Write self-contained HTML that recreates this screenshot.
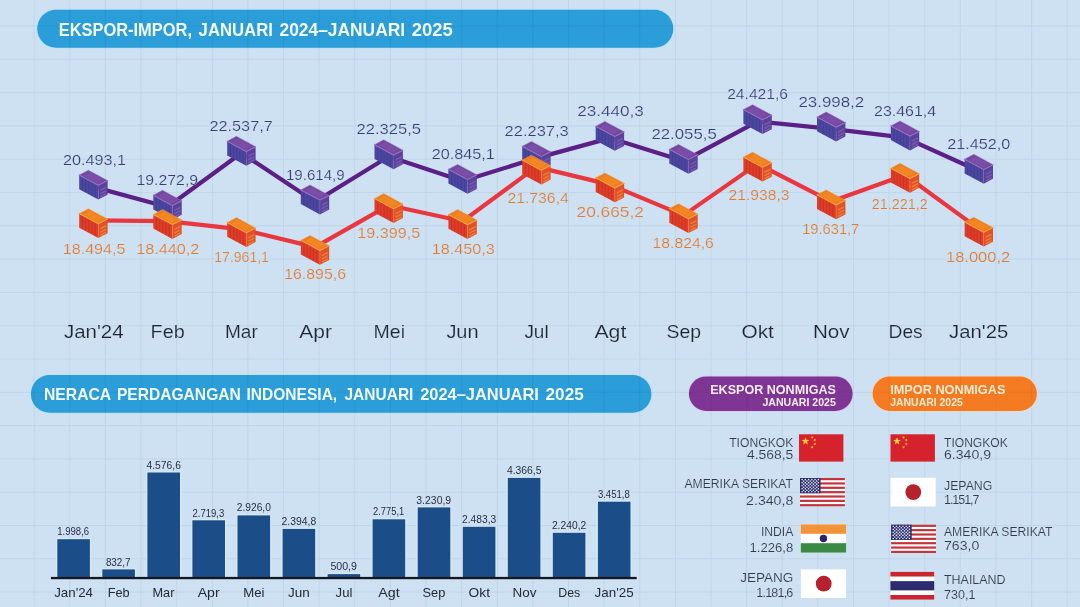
<!DOCTYPE html>
<html lang="id">
<head>
<meta charset="utf-8">
<title>Ekspor-Impor, Januari 2024–Januari 2025</title>
<style>
html,body{margin:0;padding:0;background:#cde1f2;}
body{width:1080px;height:607px;overflow:hidden;font-family:"Liberation Sans",sans-serif;}
svg{display:block;}
text{font-family:"Liberation Sans",sans-serif;}
svg{will-change:transform;}
</style>
</head>
<body>
<svg width="1080" height="607" viewBox="0 0 1080 607" font-family="&quot;Liberation Sans&quot;, sans-serif">
<rect width="1080" height="607" fill="#cde1f2"/>
<g id="grid">
<path d="M34.2 0V607M69.8 0V607M105.4 0V607M141.1 0V607M176.7 0V607M212.3 0V607M247.9 0V607M283.5 0V607M319.2 0V607M354.8 0V607M390.4 0V607M426.0 0V607M461.6 0V607M497.3 0V607M532.9 0V607M568.5 0V607M604.1 0V607M639.7 0V607M675.4 0V607M711.0 0V607M746.6 0V607M782.2 0V607M817.8 0V607M853.5 0V607M889.1 0V607M924.7 0V607M960.3 0V607M995.9 0V607M1031.6 0V607M1067.2 0V607M0 26.0H1080M0 59.3H1080M0 92.6H1080M0 125.9H1080M0 159.2H1080M0 192.5H1080M0 225.8H1080M0 259.1H1080M0 292.4H1080M0 325.7H1080M0 359.0H1080M0 392.3H1080M0 425.6H1080M0 458.9H1080M0 492.2H1080M0 525.5H1080M0 558.8H1080M0 592.1H1080" stroke="#bfd5e9" stroke-width="1" fill="none"/>
</g>
<g id="pills">
<rect x="36.4" y="8.9" width="637.7" height="39.7" rx="19.8" fill="#b4e2f8" opacity="0.75"/>
<rect x="37.2" y="9.7" width="636.1" height="38.1" rx="19.0" fill="#2b9dd8"/>
<clipPath id="pc1"><rect x="37.2" y="9.7" width="636.1" height="38.1" rx="19.0"/></clipPath>
<path d="M34.2 0V607M69.8 0V607M105.4 0V607M141.1 0V607M176.7 0V607M212.3 0V607M247.9 0V607M283.5 0V607M319.2 0V607M354.8 0V607M390.4 0V607M426.0 0V607M461.6 0V607M497.3 0V607M532.9 0V607M568.5 0V607M604.1 0V607M639.7 0V607M675.4 0V607M711.0 0V607M746.6 0V607M782.2 0V607M817.8 0V607M853.5 0V607M889.1 0V607M924.7 0V607M960.3 0V607M995.9 0V607M1031.6 0V607M1067.2 0V607M0 26.0H1080M0 59.3H1080M0 92.6H1080M0 125.9H1080M0 159.2H1080M0 192.5H1080M0 225.8H1080M0 259.1H1080M0 292.4H1080M0 325.7H1080M0 359.0H1080M0 392.3H1080M0 425.6H1080M0 458.9H1080M0 492.2H1080M0 525.5H1080M0 558.8H1080M0 592.1H1080" stroke="#1f86c2" stroke-width="1" fill="none" opacity="0.3" clip-path="url(#pc1)"/>
<text x="58.7" y="36.1" font-size="18.4" fill="#f2fbff" font-weight="bold" textLength="133.3" lengthAdjust="spacingAndGlyphs">EKSPOR-IMPOR,</text>
<text x="198.6" y="36.1" font-size="18.4" fill="#f2fbff" font-weight="bold" textLength="74.3" lengthAdjust="spacingAndGlyphs">JANUARI</text>
<text x="279.5" y="36.1" font-size="18.4" fill="#f2fbff" font-weight="bold" textLength="125.6" lengthAdjust="spacingAndGlyphs">2024–JANUARI</text>
<text x="411.7" y="36.1" font-size="18.4" fill="#f2fbff" font-weight="bold" textLength="41.1" lengthAdjust="spacingAndGlyphs">2025</text>
<rect x="30.1" y="374.2" width="622.1" height="39.4" rx="19.7" fill="#b4e2f8" opacity="0.75"/>
<rect x="30.9" y="375.0" width="620.5" height="37.8" rx="18.9" fill="#2b9dd8"/>
<clipPath id="pc2"><rect x="30.9" y="375.0" width="620.5" height="37.8" rx="18.9"/></clipPath>
<path d="M34.2 0V607M69.8 0V607M105.4 0V607M141.1 0V607M176.7 0V607M212.3 0V607M247.9 0V607M283.5 0V607M319.2 0V607M354.8 0V607M390.4 0V607M426.0 0V607M461.6 0V607M497.3 0V607M532.9 0V607M568.5 0V607M604.1 0V607M639.7 0V607M675.4 0V607M711.0 0V607M746.6 0V607M782.2 0V607M817.8 0V607M853.5 0V607M889.1 0V607M924.7 0V607M960.3 0V607M995.9 0V607M1031.6 0V607M1067.2 0V607M0 26.0H1080M0 59.3H1080M0 92.6H1080M0 125.9H1080M0 159.2H1080M0 192.5H1080M0 225.8H1080M0 259.1H1080M0 292.4H1080M0 325.7H1080M0 359.0H1080M0 392.3H1080M0 425.6H1080M0 458.9H1080M0 492.2H1080M0 525.5H1080M0 558.8H1080M0 592.1H1080" stroke="#1f86c2" stroke-width="1" fill="none" opacity="0.3" clip-path="url(#pc2)"/>
<text x="44.0" y="400.0" font-size="16.9" fill="#f2fbff" font-weight="bold" textLength="67.2" lengthAdjust="spacingAndGlyphs">NERACA</text>
<text x="116.9" y="400.0" font-size="16.9" fill="#f2fbff" font-weight="bold" textLength="123.9" lengthAdjust="spacingAndGlyphs">PERDAGANGAN</text>
<text x="246.5" y="400.0" font-size="16.9" fill="#f2fbff" font-weight="bold" textLength="90.7" lengthAdjust="spacingAndGlyphs">INDONESIA,</text>
<text x="344.5" y="400.0" font-size="16.9" fill="#f2fbff" font-weight="bold" textLength="68.9" lengthAdjust="spacingAndGlyphs">JANUARI</text>
<text x="420.2" y="400.0" font-size="16.9" fill="#f2fbff" font-weight="bold" textLength="118.7" lengthAdjust="spacingAndGlyphs">2024–JANUARI</text>
<text x="545.6" y="400.0" font-size="16.9" fill="#f2fbff" font-weight="bold" textLength="38.1" lengthAdjust="spacingAndGlyphs">2025</text>
<rect x="688.1" y="375.7" width="165.3" height="36.0" rx="18.0" fill="#dcc6ea" opacity="0.75"/>
<rect x="688.9" y="376.5" width="163.7" height="34.4" rx="17.2" fill="#7f3593"/>
<clipPath id="pc3"><rect x="688.9" y="376.5" width="163.7" height="34.4" rx="17.2"/></clipPath>
<path d="M34.2 0V607M69.8 0V607M105.4 0V607M141.1 0V607M176.7 0V607M212.3 0V607M247.9 0V607M283.5 0V607M319.2 0V607M354.8 0V607M390.4 0V607M426.0 0V607M461.6 0V607M497.3 0V607M532.9 0V607M568.5 0V607M604.1 0V607M639.7 0V607M675.4 0V607M711.0 0V607M746.6 0V607M782.2 0V607M817.8 0V607M853.5 0V607M889.1 0V607M924.7 0V607M960.3 0V607M995.9 0V607M1031.6 0V607M1067.2 0V607M0 26.0H1080M0 59.3H1080M0 92.6H1080M0 125.9H1080M0 159.2H1080M0 192.5H1080M0 225.8H1080M0 259.1H1080M0 292.4H1080M0 325.7H1080M0 359.0H1080M0 392.3H1080M0 425.6H1080M0 458.9H1080M0 492.2H1080M0 525.5H1080M0 558.8H1080M0 592.1H1080" stroke="#6a2a80" stroke-width="1" fill="none" opacity="0.3" clip-path="url(#pc3)"/>
<text x="710.2" y="394.1" font-size="12.6" fill="#fbeefa" font-weight="bold" textLength="125.7" lengthAdjust="spacingAndGlyphs">EKSPOR NONMIGAS</text>
<text x="762.4" y="406.1" font-size="10.0" fill="#fbeefa" font-weight="bold" textLength="73.5" lengthAdjust="spacingAndGlyphs">JANUARI 2025</text>
<rect x="871.8" y="375.7" width="165.9" height="36.0" rx="18.0" fill="#fcd9b8" opacity="0.75"/>
<rect x="872.6" y="376.5" width="164.3" height="34.4" rx="17.2" fill="#f47b21"/>
<clipPath id="pc4"><rect x="872.6" y="376.5" width="164.3" height="34.4" rx="17.2"/></clipPath>
<path d="M34.2 0V607M69.8 0V607M105.4 0V607M141.1 0V607M176.7 0V607M212.3 0V607M247.9 0V607M283.5 0V607M319.2 0V607M354.8 0V607M390.4 0V607M426.0 0V607M461.6 0V607M497.3 0V607M532.9 0V607M568.5 0V607M604.1 0V607M639.7 0V607M675.4 0V607M711.0 0V607M746.6 0V607M782.2 0V607M817.8 0V607M853.5 0V607M889.1 0V607M924.7 0V607M960.3 0V607M995.9 0V607M1031.6 0V607M1067.2 0V607M0 26.0H1080M0 59.3H1080M0 92.6H1080M0 125.9H1080M0 159.2H1080M0 192.5H1080M0 225.8H1080M0 259.1H1080M0 292.4H1080M0 325.7H1080M0 359.0H1080M0 392.3H1080M0 425.6H1080M0 458.9H1080M0 492.2H1080M0 525.5H1080M0 558.8H1080M0 592.1H1080" stroke="#e06a15" stroke-width="1" fill="none" opacity="0.3" clip-path="url(#pc4)"/>
<text x="890.2" y="394.1" font-size="12.6" fill="#fdebd3" font-weight="bold" textLength="115.2" lengthAdjust="spacingAndGlyphs">IMPOR NONMIGAS</text>
<text x="890.2" y="406.1" font-size="10.0" fill="#fdebd3" font-weight="bold" textLength="72.6" lengthAdjust="spacingAndGlyphs">JANUARI 2025</text>
</g>
<g id="linechart">
<polyline points="93.4,186.9 167.5,207.0 241.4,153.0 315.0,201.7 388.7,156.5 462.6,181.1 536.4,158.1 609.9,138.1 683.5,161.1 757.6,121.4 831.2,128.8 905.0,137.7 978.8,171.0" fill="none" stroke="#5b1f86" stroke-width="4.2" stroke-linejoin="round"/>
<polyline points="93.4,220.4 167.5,221.2 241.4,229.3 315.0,247.1 388.7,205.3 462.6,221.3 536.4,166.9 609.9,184.6 683.5,215.4 757.6,163.9 831.2,201.6 905.0,175.0 978.8,228.9" fill="none" stroke="#e9363f" stroke-width="4.2" stroke-linejoin="round"/>
<polygon points="79.2,175.1 98.3,185.3 98.3,199.6 79.2,189.3" fill="#4b469f"/>
<polygon points="98.3,185.3 107.6,180.6 107.6,194.7 98.3,199.6" fill="#5a419a"/>
<polygon points="79.2,175.1 88.4,170.2 107.6,180.6 98.3,185.3" fill="#7446a0"/>
<polygon points="83.2,175.8 89.8,172.3 103.6,179.8 96.9,183.2" fill="#7a4da6"/>
<polyline points="79.2,175.1 98.3,185.3 107.6,180.6" fill="none" stroke="#9470be" stroke-width="1.1" stroke-linejoin="round" stroke-linecap="round"/>
<polyline points="79.2,175.1 88.4,170.2 107.6,180.6" fill="none" stroke="#9470be" stroke-width="0.7" stroke-linejoin="round" opacity="0.7"/>
<path d="M82.4 178.2L82.4 190.2M85.6 179.9L85.6 191.9M88.8 181.6L88.8 193.7M91.9 183.3L91.9 195.4M95.1 185.0L95.1 197.1" stroke="#403a8e" stroke-width="1" fill="none" opacity="0.7"/>
<path d="M100.3 190.3L106.3 187.2M100.3 193.7L106.3 190.6M100.3 196.8L106.3 193.7" stroke="#7c62b5" stroke-width="1.6" fill="none" opacity="0.75"/>
<path d="M98.3 185.3L98.3 199.6" stroke="#9470be" stroke-width="0.6" opacity="0.55"/>
<polygon points="153.3,195.2 172.4,205.4 172.4,219.7 153.3,209.4" fill="#4b469f"/>
<polygon points="172.4,205.4 181.7,200.7 181.7,214.8 172.4,219.7" fill="#5a419a"/>
<polygon points="153.3,195.2 162.5,190.3 181.7,200.7 172.4,205.4" fill="#7446a0"/>
<polygon points="157.3,195.9 163.9,192.4 177.7,199.9 171.0,203.3" fill="#7a4da6"/>
<polyline points="153.3,195.2 172.4,205.4 181.7,200.7" fill="none" stroke="#9470be" stroke-width="1.1" stroke-linejoin="round" stroke-linecap="round"/>
<polyline points="153.3,195.2 162.5,190.3 181.7,200.7" fill="none" stroke="#9470be" stroke-width="0.7" stroke-linejoin="round" opacity="0.7"/>
<path d="M156.5 198.3L156.5 210.3M159.7 200.0L159.7 212.0M162.8 201.7L162.8 213.8M166.0 203.4L166.0 215.5M169.2 205.1L169.2 217.2" stroke="#403a8e" stroke-width="1" fill="none" opacity="0.7"/>
<path d="M174.4 210.4L180.4 207.3M174.4 213.8L180.4 210.7M174.4 216.9L180.4 213.8" stroke="#7c62b5" stroke-width="1.6" fill="none" opacity="0.75"/>
<path d="M172.4 205.4L172.4 219.7" stroke="#9470be" stroke-width="0.6" opacity="0.55"/>
<polygon points="227.2,141.2 246.3,151.4 246.3,165.7 227.2,155.4" fill="#4b469f"/>
<polygon points="246.3,151.4 255.6,146.7 255.6,160.8 246.3,165.7" fill="#5a419a"/>
<polygon points="227.2,141.2 236.4,136.3 255.6,146.7 246.3,151.4" fill="#7446a0"/>
<polygon points="231.2,141.9 237.8,138.4 251.6,145.9 244.9,149.3" fill="#7a4da6"/>
<polyline points="227.2,141.2 246.3,151.4 255.6,146.7" fill="none" stroke="#9470be" stroke-width="1.1" stroke-linejoin="round" stroke-linecap="round"/>
<polyline points="227.2,141.2 236.4,136.3 255.6,146.7" fill="none" stroke="#9470be" stroke-width="0.7" stroke-linejoin="round" opacity="0.7"/>
<path d="M230.4 144.3L230.4 156.3M233.6 146.0L233.6 158.0M236.8 147.7L236.8 159.8M239.9 149.4L239.9 161.5M243.1 151.1L243.1 163.2" stroke="#403a8e" stroke-width="1" fill="none" opacity="0.7"/>
<path d="M248.3 156.4L254.3 153.3M248.3 159.8L254.3 156.7M248.3 162.9L254.3 159.8" stroke="#7c62b5" stroke-width="1.6" fill="none" opacity="0.75"/>
<path d="M246.3 151.4L246.3 165.7" stroke="#9470be" stroke-width="0.6" opacity="0.55"/>
<polygon points="300.8,189.9 319.9,200.1 319.9,214.4 300.8,204.1" fill="#4b469f"/>
<polygon points="319.9,200.1 329.2,195.4 329.2,209.5 319.9,214.4" fill="#5a419a"/>
<polygon points="300.8,189.9 310.0,185.0 329.2,195.4 319.9,200.1" fill="#7446a0"/>
<polygon points="304.8,190.6 311.4,187.1 325.2,194.6 318.5,198.0" fill="#7a4da6"/>
<polyline points="300.8,189.9 319.9,200.1 329.2,195.4" fill="none" stroke="#9470be" stroke-width="1.1" stroke-linejoin="round" stroke-linecap="round"/>
<polyline points="300.8,189.9 310.0,185.0 329.2,195.4" fill="none" stroke="#9470be" stroke-width="0.7" stroke-linejoin="round" opacity="0.7"/>
<path d="M304.0 193.0L304.0 205.0M307.2 194.7L307.2 206.7M310.4 196.4L310.4 208.4M313.5 198.1L313.5 210.2M316.7 199.8L316.7 211.9" stroke="#403a8e" stroke-width="1" fill="none" opacity="0.7"/>
<path d="M321.9 205.1L327.9 202.0M321.9 208.5L327.9 205.4M321.9 211.6L327.9 208.5" stroke="#7c62b5" stroke-width="1.6" fill="none" opacity="0.75"/>
<path d="M319.9 200.1L319.9 214.4" stroke="#9470be" stroke-width="0.6" opacity="0.55"/>
<polygon points="374.5,144.7 393.6,154.9 393.6,169.2 374.5,158.9" fill="#4b469f"/>
<polygon points="393.6,154.9 402.9,150.2 402.9,164.3 393.6,169.2" fill="#5a419a"/>
<polygon points="374.5,144.7 383.7,139.8 402.9,150.2 393.6,154.9" fill="#7446a0"/>
<polygon points="378.5,145.4 385.1,141.9 398.9,149.4 392.2,152.8" fill="#7a4da6"/>
<polyline points="374.5,144.7 393.6,154.9 402.9,150.2" fill="none" stroke="#9470be" stroke-width="1.1" stroke-linejoin="round" stroke-linecap="round"/>
<polyline points="374.5,144.7 383.7,139.8 402.9,150.2" fill="none" stroke="#9470be" stroke-width="0.7" stroke-linejoin="round" opacity="0.7"/>
<path d="M377.7 147.8L377.7 159.8M380.9 149.5L380.9 161.5M384.1 151.2L384.1 163.2M387.2 152.9L387.2 165.0M390.4 154.6L390.4 166.7" stroke="#403a8e" stroke-width="1" fill="none" opacity="0.7"/>
<path d="M395.6 159.9L401.6 156.8M395.6 163.3L401.6 160.2M395.6 166.4L401.6 163.3" stroke="#7c62b5" stroke-width="1.6" fill="none" opacity="0.75"/>
<path d="M393.6 154.9L393.6 169.2" stroke="#9470be" stroke-width="0.6" opacity="0.55"/>
<polygon points="448.4,169.3 467.5,179.5 467.5,193.8 448.4,183.5" fill="#4b469f"/>
<polygon points="467.5,179.5 476.8,174.8 476.8,188.9 467.5,193.8" fill="#5a419a"/>
<polygon points="448.4,169.3 457.6,164.4 476.8,174.8 467.5,179.5" fill="#7446a0"/>
<polygon points="452.4,170.0 459.0,166.5 472.8,174.0 466.1,177.4" fill="#7a4da6"/>
<polyline points="448.4,169.3 467.5,179.5 476.8,174.8" fill="none" stroke="#9470be" stroke-width="1.1" stroke-linejoin="round" stroke-linecap="round"/>
<polyline points="448.4,169.3 457.6,164.4 476.8,174.8" fill="none" stroke="#9470be" stroke-width="0.7" stroke-linejoin="round" opacity="0.7"/>
<path d="M451.6 172.4L451.6 184.4M454.8 174.1L454.8 186.1M458.0 175.8L458.0 187.8M461.1 177.5L461.1 189.6M464.3 179.2L464.3 191.3" stroke="#403a8e" stroke-width="1" fill="none" opacity="0.7"/>
<path d="M469.5 184.5L475.5 181.4M469.5 187.9L475.5 184.8M469.5 191.0L475.5 187.9" stroke="#7c62b5" stroke-width="1.6" fill="none" opacity="0.75"/>
<path d="M467.5 179.5L467.5 193.8" stroke="#9470be" stroke-width="0.6" opacity="0.55"/>
<polygon points="522.2,146.3 541.3,156.5 541.3,170.8 522.2,160.5" fill="#4b469f"/>
<polygon points="541.3,156.5 550.6,151.8 550.6,165.9 541.3,170.8" fill="#5a419a"/>
<polygon points="522.2,146.3 531.4,141.4 550.6,151.8 541.3,156.5" fill="#7446a0"/>
<polygon points="526.2,147.0 532.8,143.5 546.6,151.0 539.9,154.4" fill="#7a4da6"/>
<polyline points="522.2,146.3 541.3,156.5 550.6,151.8" fill="none" stroke="#9470be" stroke-width="1.1" stroke-linejoin="round" stroke-linecap="round"/>
<polyline points="522.2,146.3 531.4,141.4 550.6,151.8" fill="none" stroke="#9470be" stroke-width="0.7" stroke-linejoin="round" opacity="0.7"/>
<path d="M525.4 149.4L525.4 161.4M528.6 151.1L528.6 163.1M531.8 152.8L531.8 164.8M534.9 154.5L534.9 166.6M538.1 156.2L538.1 168.3" stroke="#403a8e" stroke-width="1" fill="none" opacity="0.7"/>
<path d="M543.3 161.5L549.3 158.4M543.3 164.9L549.3 161.8M543.3 168.0L549.3 164.9" stroke="#7c62b5" stroke-width="1.6" fill="none" opacity="0.75"/>
<path d="M541.3 156.5L541.3 170.8" stroke="#9470be" stroke-width="0.6" opacity="0.55"/>
<polygon points="595.7,126.3 614.8,136.5 614.8,150.8 595.7,140.5" fill="#4b469f"/>
<polygon points="614.8,136.5 624.1,131.8 624.1,145.9 614.8,150.8" fill="#5a419a"/>
<polygon points="595.7,126.3 604.9,121.4 624.1,131.8 614.8,136.5" fill="#7446a0"/>
<polygon points="599.7,127.0 606.3,123.5 620.1,131.0 613.4,134.4" fill="#7a4da6"/>
<polyline points="595.7,126.3 614.8,136.5 624.1,131.8" fill="none" stroke="#9470be" stroke-width="1.1" stroke-linejoin="round" stroke-linecap="round"/>
<polyline points="595.7,126.3 604.9,121.4 624.1,131.8" fill="none" stroke="#9470be" stroke-width="0.7" stroke-linejoin="round" opacity="0.7"/>
<path d="M598.9 129.4L598.9 141.4M602.1 131.1L602.1 143.1M605.2 132.8L605.2 144.8M608.4 134.5L608.4 146.6M611.6 136.2L611.6 148.3" stroke="#403a8e" stroke-width="1" fill="none" opacity="0.7"/>
<path d="M616.8 141.5L622.8 138.4M616.8 144.9L622.8 141.8M616.8 148.0L622.8 144.9" stroke="#7c62b5" stroke-width="1.6" fill="none" opacity="0.75"/>
<path d="M614.8 136.5L614.8 150.8" stroke="#9470be" stroke-width="0.6" opacity="0.55"/>
<polygon points="669.3,149.3 688.4,159.5 688.4,173.8 669.3,163.5" fill="#4b469f"/>
<polygon points="688.4,159.5 697.7,154.8 697.7,168.9 688.4,173.8" fill="#5a419a"/>
<polygon points="669.3,149.3 678.5,144.4 697.7,154.8 688.4,159.5" fill="#7446a0"/>
<polygon points="673.3,150.0 679.9,146.5 693.7,154.0 687.0,157.4" fill="#7a4da6"/>
<polyline points="669.3,149.3 688.4,159.5 697.7,154.8" fill="none" stroke="#9470be" stroke-width="1.1" stroke-linejoin="round" stroke-linecap="round"/>
<polyline points="669.3,149.3 678.5,144.4 697.7,154.8" fill="none" stroke="#9470be" stroke-width="0.7" stroke-linejoin="round" opacity="0.7"/>
<path d="M672.5 152.4L672.5 164.4M675.7 154.1L675.7 166.1M678.9 155.8L678.9 167.8M682.0 157.5L682.0 169.6M685.2 159.2L685.2 171.3" stroke="#403a8e" stroke-width="1" fill="none" opacity="0.7"/>
<path d="M690.4 164.5L696.4 161.4M690.4 167.9L696.4 164.8M690.4 171.0L696.4 167.9" stroke="#7c62b5" stroke-width="1.6" fill="none" opacity="0.75"/>
<path d="M688.4 159.5L688.4 173.8" stroke="#9470be" stroke-width="0.6" opacity="0.55"/>
<polygon points="743.4,109.6 762.5,119.8 762.5,134.1 743.4,123.8" fill="#4b469f"/>
<polygon points="762.5,119.8 771.8,115.1 771.8,129.2 762.5,134.1" fill="#5a419a"/>
<polygon points="743.4,109.6 752.6,104.7 771.8,115.1 762.5,119.8" fill="#7446a0"/>
<polygon points="747.4,110.3 754.0,106.8 767.8,114.3 761.1,117.7" fill="#7a4da6"/>
<polyline points="743.4,109.6 762.5,119.8 771.8,115.1" fill="none" stroke="#9470be" stroke-width="1.1" stroke-linejoin="round" stroke-linecap="round"/>
<polyline points="743.4,109.6 752.6,104.7 771.8,115.1" fill="none" stroke="#9470be" stroke-width="0.7" stroke-linejoin="round" opacity="0.7"/>
<path d="M746.6 112.7L746.6 124.7M749.8 114.4L749.8 126.4M753.0 116.1L753.0 128.2M756.1 117.8L756.1 129.9M759.3 119.5L759.3 131.6" stroke="#403a8e" stroke-width="1" fill="none" opacity="0.7"/>
<path d="M764.5 124.8L770.5 121.7M764.5 128.2L770.5 125.1M764.5 131.3L770.5 128.2" stroke="#7c62b5" stroke-width="1.6" fill="none" opacity="0.75"/>
<path d="M762.5 119.8L762.5 134.1" stroke="#9470be" stroke-width="0.6" opacity="0.55"/>
<polygon points="817.0,117.0 836.1,127.2 836.1,141.5 817.0,131.2" fill="#4b469f"/>
<polygon points="836.1,127.2 845.4,122.5 845.4,136.6 836.1,141.5" fill="#5a419a"/>
<polygon points="817.0,117.0 826.2,112.1 845.4,122.5 836.1,127.2" fill="#7446a0"/>
<polygon points="821.0,117.7 827.6,114.2 841.4,121.7 834.7,125.1" fill="#7a4da6"/>
<polyline points="817.0,117.0 836.1,127.2 845.4,122.5" fill="none" stroke="#9470be" stroke-width="1.1" stroke-linejoin="round" stroke-linecap="round"/>
<polyline points="817.0,117.0 826.2,112.1 845.4,122.5" fill="none" stroke="#9470be" stroke-width="0.7" stroke-linejoin="round" opacity="0.7"/>
<path d="M820.2 120.1L820.2 132.1M823.4 121.8L823.4 133.8M826.6 123.5L826.6 135.5M829.7 125.2L829.7 137.3M832.9 126.9L832.9 139.0" stroke="#403a8e" stroke-width="1" fill="none" opacity="0.7"/>
<path d="M838.1 132.2L844.1 129.1M838.1 135.6L844.1 132.5M838.1 138.7L844.1 135.6" stroke="#7c62b5" stroke-width="1.6" fill="none" opacity="0.75"/>
<path d="M836.1 127.2L836.1 141.5" stroke="#9470be" stroke-width="0.6" opacity="0.55"/>
<polygon points="890.8,125.9 909.9,136.1 909.9,150.4 890.8,140.1" fill="#4b469f"/>
<polygon points="909.9,136.1 919.2,131.4 919.2,145.5 909.9,150.4" fill="#5a419a"/>
<polygon points="890.8,125.9 900.0,121.0 919.2,131.4 909.9,136.1" fill="#7446a0"/>
<polygon points="894.8,126.6 901.4,123.1 915.2,130.6 908.5,134.0" fill="#7a4da6"/>
<polyline points="890.8,125.9 909.9,136.1 919.2,131.4" fill="none" stroke="#9470be" stroke-width="1.1" stroke-linejoin="round" stroke-linecap="round"/>
<polyline points="890.8,125.9 900.0,121.0 919.2,131.4" fill="none" stroke="#9470be" stroke-width="0.7" stroke-linejoin="round" opacity="0.7"/>
<path d="M894.0 129.0L894.0 141.0M897.2 130.7L897.2 142.7M900.4 132.4L900.4 144.4M903.5 134.1L903.5 146.2M906.7 135.8L906.7 147.9" stroke="#403a8e" stroke-width="1" fill="none" opacity="0.7"/>
<path d="M911.9 141.1L917.9 138.0M911.9 144.5L917.9 141.4M911.9 147.6L917.9 144.5" stroke="#7c62b5" stroke-width="1.6" fill="none" opacity="0.75"/>
<path d="M909.9 136.1L909.9 150.4" stroke="#9470be" stroke-width="0.6" opacity="0.55"/>
<polygon points="964.6,159.2 983.7,169.4 983.7,183.7 964.6,173.4" fill="#4b469f"/>
<polygon points="983.7,169.4 993.0,164.7 993.0,178.8 983.7,183.7" fill="#5a419a"/>
<polygon points="964.6,159.2 973.8,154.3 993.0,164.7 983.7,169.4" fill="#7446a0"/>
<polygon points="968.6,159.9 975.2,156.4 989.0,163.9 982.3,167.3" fill="#7a4da6"/>
<polyline points="964.6,159.2 983.7,169.4 993.0,164.7" fill="none" stroke="#9470be" stroke-width="1.1" stroke-linejoin="round" stroke-linecap="round"/>
<polyline points="964.6,159.2 973.8,154.3 993.0,164.7" fill="none" stroke="#9470be" stroke-width="0.7" stroke-linejoin="round" opacity="0.7"/>
<path d="M967.8 162.3L967.8 174.3M971.0 164.0L971.0 176.0M974.1 165.7L974.1 177.8M977.3 167.4L977.3 179.5M980.5 169.1L980.5 181.2" stroke="#403a8e" stroke-width="1" fill="none" opacity="0.7"/>
<path d="M985.7 174.4L991.7 171.3M985.7 177.8L991.7 174.7M985.7 180.9L991.7 177.8" stroke="#7c62b5" stroke-width="1.6" fill="none" opacity="0.75"/>
<path d="M983.7 169.4L983.7 183.7" stroke="#9470be" stroke-width="0.6" opacity="0.55"/>
<polygon points="79.2,213.6 98.3,223.8 98.3,238.1 79.2,227.8" fill="#de3d29"/>
<polygon points="98.3,223.8 107.6,219.1 107.6,233.2 98.3,238.1" fill="#e05029"/>
<polygon points="79.2,213.6 88.4,208.7 107.6,219.1 98.3,223.8" fill="#ee7d1f"/>
<polygon points="83.2,214.3 89.8,210.8 103.6,218.3 96.9,221.7" fill="#f18623"/>
<polyline points="79.2,213.6 98.3,223.8 107.6,219.1" fill="none" stroke="#f7a040" stroke-width="1.1" stroke-linejoin="round" stroke-linecap="round"/>
<polyline points="79.2,213.6 88.4,208.7 107.6,219.1" fill="none" stroke="#f7a040" stroke-width="0.7" stroke-linejoin="round" opacity="0.7"/>
<path d="M82.4 216.7L82.4 228.7M85.6 218.4L85.6 230.4M88.8 220.1L88.8 232.2M91.9 221.8L91.9 233.9M95.1 223.5L95.1 235.6" stroke="#c22f1e" stroke-width="1" fill="none" opacity="0.7"/>
<path d="M100.3 228.8L106.3 225.7M100.3 232.2L106.3 229.1M100.3 235.3L106.3 232.2" stroke="#f08a38" stroke-width="1.6" fill="none" opacity="0.75"/>
<path d="M98.3 223.8L98.3 238.1" stroke="#f7a040" stroke-width="0.6" opacity="0.55"/>
<polygon points="153.3,214.4 172.4,224.6 172.4,238.9 153.3,228.6" fill="#de3d29"/>
<polygon points="172.4,224.6 181.7,219.9 181.7,234.0 172.4,238.9" fill="#e05029"/>
<polygon points="153.3,214.4 162.5,209.5 181.7,219.9 172.4,224.6" fill="#ee7d1f"/>
<polygon points="157.3,215.1 163.9,211.6 177.7,219.1 171.0,222.5" fill="#f18623"/>
<polyline points="153.3,214.4 172.4,224.6 181.7,219.9" fill="none" stroke="#f7a040" stroke-width="1.1" stroke-linejoin="round" stroke-linecap="round"/>
<polyline points="153.3,214.4 162.5,209.5 181.7,219.9" fill="none" stroke="#f7a040" stroke-width="0.7" stroke-linejoin="round" opacity="0.7"/>
<path d="M156.5 217.5L156.5 229.5M159.7 219.2L159.7 231.2M162.8 220.9L162.8 232.9M166.0 222.6L166.0 234.7M169.2 224.3L169.2 236.4" stroke="#c22f1e" stroke-width="1" fill="none" opacity="0.7"/>
<path d="M174.4 229.6L180.4 226.5M174.4 233.0L180.4 229.9M174.4 236.1L180.4 233.0" stroke="#f08a38" stroke-width="1.6" fill="none" opacity="0.75"/>
<path d="M172.4 224.6L172.4 238.9" stroke="#f7a040" stroke-width="0.6" opacity="0.55"/>
<polygon points="227.2,222.5 246.3,232.7 246.3,247.0 227.2,236.7" fill="#de3d29"/>
<polygon points="246.3,232.7 255.6,228.0 255.6,242.1 246.3,247.0" fill="#e05029"/>
<polygon points="227.2,222.5 236.4,217.6 255.6,228.0 246.3,232.7" fill="#ee7d1f"/>
<polygon points="231.2,223.2 237.8,219.7 251.6,227.2 244.9,230.6" fill="#f18623"/>
<polyline points="227.2,222.5 246.3,232.7 255.6,228.0" fill="none" stroke="#f7a040" stroke-width="1.1" stroke-linejoin="round" stroke-linecap="round"/>
<polyline points="227.2,222.5 236.4,217.6 255.6,228.0" fill="none" stroke="#f7a040" stroke-width="0.7" stroke-linejoin="round" opacity="0.7"/>
<path d="M230.4 225.6L230.4 237.6M233.6 227.3L233.6 239.3M236.8 229.0L236.8 241.1M239.9 230.7L239.9 242.8M243.1 232.4L243.1 244.5" stroke="#c22f1e" stroke-width="1" fill="none" opacity="0.7"/>
<path d="M248.3 237.7L254.3 234.6M248.3 241.1L254.3 238.0M248.3 244.2L254.3 241.1" stroke="#f08a38" stroke-width="1.6" fill="none" opacity="0.75"/>
<path d="M246.3 232.7L246.3 247.0" stroke="#f7a040" stroke-width="0.6" opacity="0.55"/>
<polygon points="300.8,240.3 319.9,250.5 319.9,264.8 300.8,254.5" fill="#de3d29"/>
<polygon points="319.9,250.5 329.2,245.8 329.2,259.9 319.9,264.8" fill="#e05029"/>
<polygon points="300.8,240.3 310.0,235.4 329.2,245.8 319.9,250.5" fill="#ee7d1f"/>
<polygon points="304.8,241.0 311.4,237.5 325.2,245.0 318.5,248.4" fill="#f18623"/>
<polyline points="300.8,240.3 319.9,250.5 329.2,245.8" fill="none" stroke="#f7a040" stroke-width="1.1" stroke-linejoin="round" stroke-linecap="round"/>
<polyline points="300.8,240.3 310.0,235.4 329.2,245.8" fill="none" stroke="#f7a040" stroke-width="0.7" stroke-linejoin="round" opacity="0.7"/>
<path d="M304.0 243.4L304.0 255.4M307.2 245.1L307.2 257.1M310.4 246.8L310.4 258.8M313.5 248.5L313.5 260.6M316.7 250.2L316.7 262.3" stroke="#c22f1e" stroke-width="1" fill="none" opacity="0.7"/>
<path d="M321.9 255.5L327.9 252.4M321.9 258.9L327.9 255.8M321.9 262.0L327.9 258.9" stroke="#f08a38" stroke-width="1.6" fill="none" opacity="0.75"/>
<path d="M319.9 250.5L319.9 264.8" stroke="#f7a040" stroke-width="0.6" opacity="0.55"/>
<polygon points="374.5,198.5 393.6,208.7 393.6,223.0 374.5,212.7" fill="#de3d29"/>
<polygon points="393.6,208.7 402.9,204.0 402.9,218.1 393.6,223.0" fill="#e05029"/>
<polygon points="374.5,198.5 383.7,193.6 402.9,204.0 393.6,208.7" fill="#ee7d1f"/>
<polygon points="378.5,199.2 385.1,195.7 398.9,203.2 392.2,206.6" fill="#f18623"/>
<polyline points="374.5,198.5 393.6,208.7 402.9,204.0" fill="none" stroke="#f7a040" stroke-width="1.1" stroke-linejoin="round" stroke-linecap="round"/>
<polyline points="374.5,198.5 383.7,193.6 402.9,204.0" fill="none" stroke="#f7a040" stroke-width="0.7" stroke-linejoin="round" opacity="0.7"/>
<path d="M377.7 201.6L377.7 213.6M380.9 203.3L380.9 215.3M384.1 205.0L384.1 217.1M387.2 206.7L387.2 218.8M390.4 208.4L390.4 220.5" stroke="#c22f1e" stroke-width="1" fill="none" opacity="0.7"/>
<path d="M395.6 213.7L401.6 210.6M395.6 217.1L401.6 214.0M395.6 220.2L401.6 217.1" stroke="#f08a38" stroke-width="1.6" fill="none" opacity="0.75"/>
<path d="M393.6 208.7L393.6 223.0" stroke="#f7a040" stroke-width="0.6" opacity="0.55"/>
<polygon points="448.4,214.5 467.5,224.7 467.5,239.0 448.4,228.7" fill="#de3d29"/>
<polygon points="467.5,224.7 476.8,220.0 476.8,234.1 467.5,239.0" fill="#e05029"/>
<polygon points="448.4,214.5 457.6,209.6 476.8,220.0 467.5,224.7" fill="#ee7d1f"/>
<polygon points="452.4,215.2 459.0,211.7 472.8,219.2 466.1,222.6" fill="#f18623"/>
<polyline points="448.4,214.5 467.5,224.7 476.8,220.0" fill="none" stroke="#f7a040" stroke-width="1.1" stroke-linejoin="round" stroke-linecap="round"/>
<polyline points="448.4,214.5 457.6,209.6 476.8,220.0" fill="none" stroke="#f7a040" stroke-width="0.7" stroke-linejoin="round" opacity="0.7"/>
<path d="M451.6 217.6L451.6 229.6M454.8 219.3L454.8 231.3M458.0 221.0L458.0 233.1M461.1 222.7L461.1 234.8M464.3 224.4L464.3 236.5" stroke="#c22f1e" stroke-width="1" fill="none" opacity="0.7"/>
<path d="M469.5 229.7L475.5 226.6M469.5 233.1L475.5 230.0M469.5 236.2L475.5 233.1" stroke="#f08a38" stroke-width="1.6" fill="none" opacity="0.75"/>
<path d="M467.5 224.7L467.5 239.0" stroke="#f7a040" stroke-width="0.6" opacity="0.55"/>
<polygon points="522.2,160.1 541.3,170.3 541.3,184.6 522.2,174.3" fill="#de3d29"/>
<polygon points="541.3,170.3 550.6,165.6 550.6,179.7 541.3,184.6" fill="#e05029"/>
<polygon points="522.2,160.1 531.4,155.2 550.6,165.6 541.3,170.3" fill="#ee7d1f"/>
<polygon points="526.2,160.8 532.8,157.3 546.6,164.8 539.9,168.2" fill="#f18623"/>
<polyline points="522.2,160.1 541.3,170.3 550.6,165.6" fill="none" stroke="#f7a040" stroke-width="1.1" stroke-linejoin="round" stroke-linecap="round"/>
<polyline points="522.2,160.1 531.4,155.2 550.6,165.6" fill="none" stroke="#f7a040" stroke-width="0.7" stroke-linejoin="round" opacity="0.7"/>
<path d="M525.4 163.2L525.4 175.2M528.6 164.9L528.6 176.9M531.8 166.6L531.8 178.7M534.9 168.3L534.9 180.4M538.1 170.0L538.1 182.1" stroke="#c22f1e" stroke-width="1" fill="none" opacity="0.7"/>
<path d="M543.3 175.3L549.3 172.2M543.3 178.7L549.3 175.6M543.3 181.8L549.3 178.7" stroke="#f08a38" stroke-width="1.6" fill="none" opacity="0.75"/>
<path d="M541.3 170.3L541.3 184.6" stroke="#f7a040" stroke-width="0.6" opacity="0.55"/>
<polygon points="595.7,177.8 614.8,188.0 614.8,202.3 595.7,192.0" fill="#de3d29"/>
<polygon points="614.8,188.0 624.1,183.3 624.1,197.4 614.8,202.3" fill="#e05029"/>
<polygon points="595.7,177.8 604.9,172.9 624.1,183.3 614.8,188.0" fill="#ee7d1f"/>
<polygon points="599.7,178.5 606.3,175.0 620.1,182.5 613.4,185.9" fill="#f18623"/>
<polyline points="595.7,177.8 614.8,188.0 624.1,183.3" fill="none" stroke="#f7a040" stroke-width="1.1" stroke-linejoin="round" stroke-linecap="round"/>
<polyline points="595.7,177.8 604.9,172.9 624.1,183.3" fill="none" stroke="#f7a040" stroke-width="0.7" stroke-linejoin="round" opacity="0.7"/>
<path d="M598.9 180.9L598.9 192.9M602.1 182.6L602.1 194.6M605.2 184.3L605.2 196.3M608.4 186.0L608.4 198.1M611.6 187.7L611.6 199.8" stroke="#c22f1e" stroke-width="1" fill="none" opacity="0.7"/>
<path d="M616.8 193.0L622.8 189.9M616.8 196.4L622.8 193.3M616.8 199.5L622.8 196.4" stroke="#f08a38" stroke-width="1.6" fill="none" opacity="0.75"/>
<path d="M614.8 188.0L614.8 202.3" stroke="#f7a040" stroke-width="0.6" opacity="0.55"/>
<polygon points="669.3,208.6 688.4,218.8 688.4,233.1 669.3,222.8" fill="#de3d29"/>
<polygon points="688.4,218.8 697.7,214.1 697.7,228.2 688.4,233.1" fill="#e05029"/>
<polygon points="669.3,208.6 678.5,203.7 697.7,214.1 688.4,218.8" fill="#ee7d1f"/>
<polygon points="673.3,209.3 679.9,205.8 693.7,213.3 687.0,216.7" fill="#f18623"/>
<polyline points="669.3,208.6 688.4,218.8 697.7,214.1" fill="none" stroke="#f7a040" stroke-width="1.1" stroke-linejoin="round" stroke-linecap="round"/>
<polyline points="669.3,208.6 678.5,203.7 697.7,214.1" fill="none" stroke="#f7a040" stroke-width="0.7" stroke-linejoin="round" opacity="0.7"/>
<path d="M672.5 211.7L672.5 223.7M675.7 213.4L675.7 225.4M678.9 215.1L678.9 227.2M682.0 216.8L682.0 228.9M685.2 218.5L685.2 230.6" stroke="#c22f1e" stroke-width="1" fill="none" opacity="0.7"/>
<path d="M690.4 223.8L696.4 220.7M690.4 227.2L696.4 224.1M690.4 230.3L696.4 227.2" stroke="#f08a38" stroke-width="1.6" fill="none" opacity="0.75"/>
<path d="M688.4 218.8L688.4 233.1" stroke="#f7a040" stroke-width="0.6" opacity="0.55"/>
<polygon points="743.4,157.1 762.5,167.3 762.5,181.6 743.4,171.3" fill="#de3d29"/>
<polygon points="762.5,167.3 771.8,162.6 771.8,176.7 762.5,181.6" fill="#e05029"/>
<polygon points="743.4,157.1 752.6,152.2 771.8,162.6 762.5,167.3" fill="#ee7d1f"/>
<polygon points="747.4,157.8 754.0,154.3 767.8,161.8 761.1,165.2" fill="#f18623"/>
<polyline points="743.4,157.1 762.5,167.3 771.8,162.6" fill="none" stroke="#f7a040" stroke-width="1.1" stroke-linejoin="round" stroke-linecap="round"/>
<polyline points="743.4,157.1 752.6,152.2 771.8,162.6" fill="none" stroke="#f7a040" stroke-width="0.7" stroke-linejoin="round" opacity="0.7"/>
<path d="M746.6 160.2L746.6 172.2M749.8 161.9L749.8 173.9M753.0 163.6L753.0 175.7M756.1 165.3L756.1 177.4M759.3 167.0L759.3 179.1" stroke="#c22f1e" stroke-width="1" fill="none" opacity="0.7"/>
<path d="M764.5 172.3L770.5 169.2M764.5 175.7L770.5 172.6M764.5 178.8L770.5 175.7" stroke="#f08a38" stroke-width="1.6" fill="none" opacity="0.75"/>
<path d="M762.5 167.3L762.5 181.6" stroke="#f7a040" stroke-width="0.6" opacity="0.55"/>
<polygon points="817.0,194.8 836.1,205.0 836.1,219.3 817.0,209.0" fill="#de3d29"/>
<polygon points="836.1,205.0 845.4,200.3 845.4,214.4 836.1,219.3" fill="#e05029"/>
<polygon points="817.0,194.8 826.2,189.9 845.4,200.3 836.1,205.0" fill="#ee7d1f"/>
<polygon points="821.0,195.5 827.6,192.0 841.4,199.5 834.7,202.9" fill="#f18623"/>
<polyline points="817.0,194.8 836.1,205.0 845.4,200.3" fill="none" stroke="#f7a040" stroke-width="1.1" stroke-linejoin="round" stroke-linecap="round"/>
<polyline points="817.0,194.8 826.2,189.9 845.4,200.3" fill="none" stroke="#f7a040" stroke-width="0.7" stroke-linejoin="round" opacity="0.7"/>
<path d="M820.2 197.9L820.2 209.9M823.4 199.6L823.4 211.6M826.6 201.3L826.6 213.3M829.7 203.0L829.7 215.1M832.9 204.7L832.9 216.8" stroke="#c22f1e" stroke-width="1" fill="none" opacity="0.7"/>
<path d="M838.1 210.0L844.1 206.9M838.1 213.4L844.1 210.3M838.1 216.5L844.1 213.4" stroke="#f08a38" stroke-width="1.6" fill="none" opacity="0.75"/>
<path d="M836.1 205.0L836.1 219.3" stroke="#f7a040" stroke-width="0.6" opacity="0.55"/>
<polygon points="890.8,168.2 909.9,178.4 909.9,192.7 890.8,182.4" fill="#de3d29"/>
<polygon points="909.9,178.4 919.2,173.7 919.2,187.8 909.9,192.7" fill="#e05029"/>
<polygon points="890.8,168.2 900.0,163.3 919.2,173.7 909.9,178.4" fill="#ee7d1f"/>
<polygon points="894.8,168.9 901.4,165.4 915.2,172.9 908.5,176.3" fill="#f18623"/>
<polyline points="890.8,168.2 909.9,178.4 919.2,173.7" fill="none" stroke="#f7a040" stroke-width="1.1" stroke-linejoin="round" stroke-linecap="round"/>
<polyline points="890.8,168.2 900.0,163.3 919.2,173.7" fill="none" stroke="#f7a040" stroke-width="0.7" stroke-linejoin="round" opacity="0.7"/>
<path d="M894.0 171.3L894.0 183.3M897.2 173.0L897.2 185.0M900.4 174.7L900.4 186.8M903.5 176.4L903.5 188.5M906.7 178.1L906.7 190.2" stroke="#c22f1e" stroke-width="1" fill="none" opacity="0.7"/>
<path d="M911.9 183.4L917.9 180.3M911.9 186.8L917.9 183.7M911.9 189.9L917.9 186.8" stroke="#f08a38" stroke-width="1.6" fill="none" opacity="0.75"/>
<path d="M909.9 178.4L909.9 192.7" stroke="#f7a040" stroke-width="0.6" opacity="0.55"/>
<polygon points="964.6,222.1 983.7,232.3 983.7,246.6 964.6,236.3" fill="#de3d29"/>
<polygon points="983.7,232.3 993.0,227.6 993.0,241.7 983.7,246.6" fill="#e05029"/>
<polygon points="964.6,222.1 973.8,217.2 993.0,227.6 983.7,232.3" fill="#ee7d1f"/>
<polygon points="968.6,222.8 975.2,219.3 989.0,226.8 982.3,230.2" fill="#f18623"/>
<polyline points="964.6,222.1 983.7,232.3 993.0,227.6" fill="none" stroke="#f7a040" stroke-width="1.1" stroke-linejoin="round" stroke-linecap="round"/>
<polyline points="964.6,222.1 973.8,217.2 993.0,227.6" fill="none" stroke="#f7a040" stroke-width="0.7" stroke-linejoin="round" opacity="0.7"/>
<path d="M967.8 225.2L967.8 237.2M971.0 226.9L971.0 238.9M974.1 228.6L974.1 240.7M977.3 230.3L977.3 242.4M980.5 232.0L980.5 244.1" stroke="#c22f1e" stroke-width="1" fill="none" opacity="0.7"/>
<path d="M985.7 237.3L991.7 234.2M985.7 240.7L991.7 237.6M985.7 243.8L991.7 240.7" stroke="#f08a38" stroke-width="1.6" fill="none" opacity="0.75"/>
<path d="M983.7 232.3L983.7 246.6" stroke="#f7a040" stroke-width="0.6" opacity="0.55"/>
</g>
<g id="labels">
<g stroke="#cde1f2" stroke-width="0.18">
<text x="63.0" y="164.6" font-size="14.6" fill="#363f72" font-weight="normal" textLength="63.0" lengthAdjust="spacingAndGlyphs">20.493,1</text>
<text x="136.5" y="184.9" font-size="14.6" fill="#363f72" font-weight="normal" textLength="61.6" lengthAdjust="spacingAndGlyphs">19.272,9</text>
<text x="209.5" y="131.2" font-size="14.6" fill="#363f72" font-weight="normal" textLength="63.2" lengthAdjust="spacingAndGlyphs">22.537,7</text>
<text x="286.0" y="179.6" font-size="14.6" fill="#363f72" font-weight="normal" textLength="58.6" lengthAdjust="spacingAndGlyphs">19.614,9</text>
<text x="356.5" y="134.1" font-size="14.6" fill="#363f72" font-weight="normal" textLength="64.5" lengthAdjust="spacingAndGlyphs">22.325,5</text>
<text x="431.7" y="159.3" font-size="14.6" fill="#363f72" font-weight="normal" textLength="63.0" lengthAdjust="spacingAndGlyphs">20.845,1</text>
<text x="504.6" y="135.7" font-size="14.6" fill="#363f72" font-weight="normal" textLength="64.2" lengthAdjust="spacingAndGlyphs">22.237,3</text>
<text x="577.2" y="116.2" font-size="14.6" fill="#363f72" font-weight="normal" textLength="66.7" lengthAdjust="spacingAndGlyphs">23.440,3</text>
<text x="651.4" y="138.8" font-size="14.6" fill="#363f72" font-weight="normal" textLength="65.4" lengthAdjust="spacingAndGlyphs">22.055,5</text>
<text x="727.2" y="99.1" font-size="14.6" fill="#363f72" font-weight="normal" textLength="60.8" lengthAdjust="spacingAndGlyphs">24.421,6</text>
<text x="798.4" y="106.8" font-size="14.6" fill="#363f72" font-weight="normal" textLength="65.8" lengthAdjust="spacingAndGlyphs">23.998,2</text>
<text x="874.1" y="115.6" font-size="14.6" fill="#363f72" font-weight="normal" textLength="62.0" lengthAdjust="spacingAndGlyphs">23.461,4</text>
<text x="947.3" y="148.5" font-size="14.6" fill="#363f72" font-weight="normal" textLength="62.9" lengthAdjust="spacingAndGlyphs">21.452,0</text>
<text x="62.8" y="253.5" font-size="14.6" fill="#e47a2e" font-weight="normal" textLength="62.6" lengthAdjust="spacingAndGlyphs">18.494,5</text>
<text x="136.2" y="253.5" font-size="14.6" fill="#e47a2e" font-weight="normal" textLength="63.2" lengthAdjust="spacingAndGlyphs">18.440,2</text>
<text x="214.3" y="261.8" font-size="14.6" fill="#e47a2e" font-weight="normal" textLength="54.6" lengthAdjust="spacingAndGlyphs">17.961,1</text>
<text x="284.2" y="279.2" font-size="14.6" fill="#e47a2e" font-weight="normal" textLength="61.8" lengthAdjust="spacingAndGlyphs">16.895,6</text>
<text x="357.2" y="238.0" font-size="14.6" fill="#e47a2e" font-weight="normal" textLength="63.0" lengthAdjust="spacingAndGlyphs">19.399,5</text>
<text x="431.7" y="253.6" font-size="14.6" fill="#e47a2e" font-weight="normal" textLength="63.0" lengthAdjust="spacingAndGlyphs">18.450,3</text>
<text x="507.4" y="202.5" font-size="14.6" fill="#e47a2e" font-weight="normal" textLength="61.4" lengthAdjust="spacingAndGlyphs">21.736,4</text>
<text x="576.6" y="217.1" font-size="14.6" fill="#e47a2e" font-weight="normal" textLength="67.3" lengthAdjust="spacingAndGlyphs">20.665,2</text>
<text x="652.5" y="247.5" font-size="14.6" fill="#e47a2e" font-weight="normal" textLength="61.3" lengthAdjust="spacingAndGlyphs">18.824,6</text>
<text x="728.6" y="200.0" font-size="14.6" fill="#e47a2e" font-weight="normal" textLength="60.9" lengthAdjust="spacingAndGlyphs">21.938,3</text>
<text x="802.2" y="234.2" font-size="14.6" fill="#e47a2e" font-weight="normal" textLength="57.1" lengthAdjust="spacingAndGlyphs">19.631,7</text>
<text x="871.8" y="208.5" font-size="14.6" fill="#e47a2e" font-weight="normal" textLength="56.0" lengthAdjust="spacingAndGlyphs">21.221,2</text>
<text x="946.0" y="261.9" font-size="14.6" fill="#e47a2e" font-weight="normal" textLength="64.2" lengthAdjust="spacingAndGlyphs">18.000,2</text>
</g>
<g stroke="#cde1f2" stroke-width="0.15">
<text x="63.9" y="338.3" font-size="18.2" fill="#1f2433" font-weight="normal" textLength="59.7" lengthAdjust="spacingAndGlyphs">Jan&#39;24</text>
<text x="150.6" y="338.3" font-size="18.2" fill="#1f2433" font-weight="normal" textLength="34.1" lengthAdjust="spacingAndGlyphs">Feb</text>
<text x="225.0" y="338.3" font-size="18.2" fill="#1f2433" font-weight="normal" textLength="32.8" lengthAdjust="spacingAndGlyphs">Mar</text>
<text x="299.2" y="338.3" font-size="18.2" fill="#1f2433" font-weight="normal" textLength="32.7" lengthAdjust="spacingAndGlyphs">Apr</text>
<text x="373.6" y="338.3" font-size="18.2" fill="#1f2433" font-weight="normal" textLength="31.4" lengthAdjust="spacingAndGlyphs">Mei</text>
<text x="446.4" y="338.3" font-size="18.2" fill="#1f2433" font-weight="normal" textLength="32.2" lengthAdjust="spacingAndGlyphs">Jun</text>
<text x="524.4" y="338.3" font-size="18.2" fill="#1f2433" font-weight="normal" textLength="24.2" lengthAdjust="spacingAndGlyphs">Jul</text>
<text x="594.4" y="338.3" font-size="18.2" fill="#1f2433" font-weight="normal" textLength="32.0" lengthAdjust="spacingAndGlyphs">Agt</text>
<text x="666.5" y="338.3" font-size="18.2" fill="#1f2433" font-weight="normal" textLength="34.5" lengthAdjust="spacingAndGlyphs">Sep</text>
<text x="741.5" y="338.3" font-size="18.2" fill="#1f2433" font-weight="normal" textLength="32.4" lengthAdjust="spacingAndGlyphs">Okt</text>
<text x="812.9" y="338.3" font-size="18.2" fill="#1f2433" font-weight="normal" textLength="36.6" lengthAdjust="spacingAndGlyphs">Nov</text>
<text x="888.6" y="338.3" font-size="18.2" fill="#1f2433" font-weight="normal" textLength="34.1" lengthAdjust="spacingAndGlyphs">Des</text>
<text x="949.1" y="338.3" font-size="18.2" fill="#1f2433" font-weight="normal" textLength="59.1" lengthAdjust="spacingAndGlyphs">Jan&#39;25</text>
</g>
</g>
<g id="bars">
<rect x="56.1" y="538.0" width="35.0" height="40.0" fill="#dcecfa" opacity="0.8"/>
<rect x="57.3" y="539.2" width="32.6" height="38.8" fill="#1b4e89"/>
<rect x="101.1" y="568.2" width="35.0" height="9.8" fill="#dcecfa" opacity="0.8"/>
<rect x="102.3" y="569.4" width="32.6" height="8.6" fill="#1b4e89"/>
<rect x="146.2" y="471.3" width="35.0" height="106.7" fill="#dcecfa" opacity="0.8"/>
<rect x="147.4" y="472.5" width="32.6" height="105.5" fill="#1b4e89"/>
<rect x="191.2" y="519.1" width="35.0" height="58.9" fill="#dcecfa" opacity="0.8"/>
<rect x="192.4" y="520.3" width="32.6" height="57.7" fill="#1b4e89"/>
<rect x="236.3" y="514.2" width="35.0" height="63.8" fill="#dcecfa" opacity="0.8"/>
<rect x="237.5" y="515.4" width="32.6" height="62.6" fill="#1b4e89"/>
<rect x="281.4" y="527.7" width="35.0" height="50.3" fill="#dcecfa" opacity="0.8"/>
<rect x="282.6" y="528.9" width="32.6" height="49.1" fill="#1b4e89"/>
<rect x="326.4" y="572.9" width="35.0" height="5.1" fill="#dcecfa" opacity="0.8"/>
<rect x="327.6" y="574.1" width="32.6" height="3.9" fill="#1b4e89"/>
<rect x="371.4" y="518.1" width="35.0" height="59.9" fill="#dcecfa" opacity="0.8"/>
<rect x="372.6" y="519.3" width="32.6" height="58.7" fill="#1b4e89"/>
<rect x="416.5" y="506.2" width="35.0" height="71.8" fill="#dcecfa" opacity="0.8"/>
<rect x="417.7" y="507.4" width="32.6" height="70.6" fill="#1b4e89"/>
<rect x="461.6" y="525.6" width="35.0" height="52.4" fill="#dcecfa" opacity="0.8"/>
<rect x="462.8" y="526.8" width="32.6" height="51.2" fill="#1b4e89"/>
<rect x="506.6" y="476.7" width="35.0" height="101.3" fill="#dcecfa" opacity="0.8"/>
<rect x="507.8" y="477.9" width="32.6" height="100.1" fill="#1b4e89"/>
<rect x="551.6" y="531.6" width="35.0" height="46.4" fill="#dcecfa" opacity="0.8"/>
<rect x="552.8" y="532.8" width="32.6" height="45.2" fill="#1b4e89"/>
<rect x="596.7" y="500.5" width="35.0" height="77.5" fill="#dcecfa" opacity="0.8"/>
<rect x="597.9" y="501.7" width="32.6" height="76.3" fill="#1b4e89"/>
<rect x="50.9" y="576.9" width="585.8" height="2.3" fill="#141822"/>
<text x="57.3" y="535.3" font-size="10.1" fill="#2a2f42" font-weight="normal" textLength="31.8" lengthAdjust="spacingAndGlyphs">1.998,6</text>
<text x="105.9" y="565.6" font-size="10.1" fill="#2a2f42" font-weight="normal" textLength="24.6" lengthAdjust="spacingAndGlyphs">832,7</text>
<text x="146.5" y="468.6" font-size="10.1" fill="#2a2f42" font-weight="normal" textLength="34.4" lengthAdjust="spacingAndGlyphs">4.576,6</text>
<text x="192.5" y="516.7" font-size="10.1" fill="#2a2f42" font-weight="normal" textLength="31.8" lengthAdjust="spacingAndGlyphs">2.719,3</text>
<text x="236.8" y="511.3" font-size="10.1" fill="#2a2f42" font-weight="normal" textLength="34.1" lengthAdjust="spacingAndGlyphs">2.926,0</text>
<text x="281.5" y="525.0" font-size="10.1" fill="#2a2f42" font-weight="normal" textLength="34.7" lengthAdjust="spacingAndGlyphs">2.394,8</text>
<text x="330.4" y="570.2" font-size="10.1" fill="#2a2f42" font-weight="normal" textLength="26.6" lengthAdjust="spacingAndGlyphs">500,9</text>
<text x="373.0" y="515.4" font-size="10.1" fill="#2a2f42" font-weight="normal" textLength="31.3" lengthAdjust="spacingAndGlyphs">2.775,1</text>
<text x="416.3" y="503.6" font-size="10.1" fill="#2a2f42" font-weight="normal" textLength="34.9" lengthAdjust="spacingAndGlyphs">3.230,9</text>
<text x="462.1" y="523.0" font-size="10.1" fill="#2a2f42" font-weight="normal" textLength="34.1" lengthAdjust="spacingAndGlyphs">2.483,3</text>
<text x="506.9" y="474.0" font-size="10.1" fill="#2a2f42" font-weight="normal" textLength="34.6" lengthAdjust="spacingAndGlyphs">4.366,5</text>
<text x="551.9" y="529.4" font-size="10.1" fill="#2a2f42" font-weight="normal" textLength="34.4" lengthAdjust="spacingAndGlyphs">2.240,2</text>
<text x="597.9" y="497.9" font-size="10.1" fill="#2a2f42" font-weight="normal" textLength="31.9" lengthAdjust="spacingAndGlyphs">3.451,8</text>
<g>
<text x="54.2" y="596.9" font-size="13.0" fill="#262b3b" font-weight="normal" textLength="38.8" lengthAdjust="spacingAndGlyphs">Jan&#39;24</text>
<text x="107.7" y="596.9" font-size="13.0" fill="#262b3b" font-weight="normal" textLength="22.0" lengthAdjust="spacingAndGlyphs">Feb</text>
<text x="152.5" y="596.9" font-size="13.0" fill="#262b3b" font-weight="normal" textLength="21.9" lengthAdjust="spacingAndGlyphs">Mar</text>
<text x="197.7" y="596.9" font-size="13.0" fill="#262b3b" font-weight="normal" textLength="22.0" lengthAdjust="spacingAndGlyphs">Apr</text>
<text x="243.3" y="596.9" font-size="13.0" fill="#262b3b" font-weight="normal" textLength="21.2" lengthAdjust="spacingAndGlyphs">Mei</text>
<text x="288.0" y="596.9" font-size="13.0" fill="#262b3b" font-weight="normal" textLength="21.7" lengthAdjust="spacingAndGlyphs">Jun</text>
<text x="335.6" y="596.9" font-size="13.0" fill="#262b3b" font-weight="normal" textLength="16.8" lengthAdjust="spacingAndGlyphs">Jul</text>
<text x="378.2" y="596.9" font-size="13.0" fill="#262b3b" font-weight="normal" textLength="21.5" lengthAdjust="spacingAndGlyphs">Agt</text>
<text x="422.5" y="596.9" font-size="13.0" fill="#262b3b" font-weight="normal" textLength="22.8" lengthAdjust="spacingAndGlyphs">Sep</text>
<text x="468.6" y="596.9" font-size="13.0" fill="#262b3b" font-weight="normal" textLength="21.4" lengthAdjust="spacingAndGlyphs">Okt</text>
<text x="512.5" y="596.9" font-size="13.0" fill="#262b3b" font-weight="normal" textLength="23.9" lengthAdjust="spacingAndGlyphs">Nov</text>
<text x="558.3" y="596.9" font-size="13.0" fill="#262b3b" font-weight="normal" textLength="22.0" lengthAdjust="spacingAndGlyphs">Des</text>
<text x="594.6" y="596.9" font-size="13.0" fill="#262b3b" font-weight="normal" textLength="39.0" lengthAdjust="spacingAndGlyphs">Jan&#39;25</text>
</g>
</g>
<g id="flags">
<rect x="799.0" y="434.3" width="44.4" height="27.3" fill="#d5222d"/>
<polygon points="805.50,437.20 806.49,439.84 809.30,439.96 807.10,441.72 807.85,444.44 805.50,442.88 803.15,444.44 803.90,441.72 801.70,439.96 804.51,439.84" fill="#f7c736"/>
<polygon points="812.90,435.91 812.71,437.03 813.67,437.63 812.55,437.80 812.27,438.89 811.76,437.88 810.64,437.95 811.44,437.16 811.03,436.11 812.03,436.63" fill="#f7c736"/>
<polygon points="815.60,438.61 815.41,439.73 816.37,440.33 815.25,440.50 814.97,441.59 814.46,440.58 813.34,440.65 814.14,439.86 813.73,438.81 814.73,439.33" fill="#f7c736"/>
<polygon points="815.60,442.61 815.41,443.73 816.37,444.33 815.25,444.50 814.97,445.59 814.46,444.58 813.34,444.65 814.14,443.86 813.73,442.81 814.73,443.33" fill="#f7c736"/>
<polygon points="812.90,445.71 812.71,446.83 813.67,447.43 812.55,447.60 812.27,448.69 811.76,447.68 810.64,447.75 811.44,446.96 811.03,445.91 812.03,446.43" fill="#f7c736"/>
<rect x="800.0" y="478.0" width="44.9" height="28.3" fill="#ffffff"/>
<rect x="800.0" y="478.00" width="44.9" height="2.18" fill="#c5323c"/>
<rect x="800.0" y="482.35" width="44.9" height="2.18" fill="#c5323c"/>
<rect x="800.0" y="486.71" width="44.9" height="2.18" fill="#c5323c"/>
<rect x="800.0" y="491.06" width="44.9" height="2.18" fill="#c5323c"/>
<rect x="800.0" y="495.42" width="44.9" height="2.18" fill="#c5323c"/>
<rect x="800.0" y="499.77" width="44.9" height="2.18" fill="#c5323c"/>
<rect x="800.0" y="504.12" width="44.9" height="2.18" fill="#c5323c"/>
<rect x="800.0" y="478.0" width="20.6" height="15.24" fill="#2b2f6c"/>
<circle cx="802.10" cy="479.60" r="0.8" fill="#e4e6f0"/>
<circle cx="805.35" cy="479.60" r="0.8" fill="#e4e6f0"/>
<circle cx="808.60" cy="479.60" r="0.8" fill="#e4e6f0"/>
<circle cx="811.85" cy="479.60" r="0.8" fill="#e4e6f0"/>
<circle cx="815.10" cy="479.60" r="0.8" fill="#e4e6f0"/>
<circle cx="818.35" cy="479.60" r="0.8" fill="#e4e6f0"/>
<circle cx="803.70" cy="481.12" r="0.8" fill="#e4e6f0"/>
<circle cx="806.95" cy="481.12" r="0.8" fill="#e4e6f0"/>
<circle cx="810.20" cy="481.12" r="0.8" fill="#e4e6f0"/>
<circle cx="813.45" cy="481.12" r="0.8" fill="#e4e6f0"/>
<circle cx="816.70" cy="481.12" r="0.8" fill="#e4e6f0"/>
<circle cx="802.10" cy="482.64" r="0.8" fill="#e4e6f0"/>
<circle cx="805.35" cy="482.64" r="0.8" fill="#e4e6f0"/>
<circle cx="808.60" cy="482.64" r="0.8" fill="#e4e6f0"/>
<circle cx="811.85" cy="482.64" r="0.8" fill="#e4e6f0"/>
<circle cx="815.10" cy="482.64" r="0.8" fill="#e4e6f0"/>
<circle cx="818.35" cy="482.64" r="0.8" fill="#e4e6f0"/>
<circle cx="803.70" cy="484.16" r="0.8" fill="#e4e6f0"/>
<circle cx="806.95" cy="484.16" r="0.8" fill="#e4e6f0"/>
<circle cx="810.20" cy="484.16" r="0.8" fill="#e4e6f0"/>
<circle cx="813.45" cy="484.16" r="0.8" fill="#e4e6f0"/>
<circle cx="816.70" cy="484.16" r="0.8" fill="#e4e6f0"/>
<circle cx="802.10" cy="485.68" r="0.8" fill="#e4e6f0"/>
<circle cx="805.35" cy="485.68" r="0.8" fill="#e4e6f0"/>
<circle cx="808.60" cy="485.68" r="0.8" fill="#e4e6f0"/>
<circle cx="811.85" cy="485.68" r="0.8" fill="#e4e6f0"/>
<circle cx="815.10" cy="485.68" r="0.8" fill="#e4e6f0"/>
<circle cx="818.35" cy="485.68" r="0.8" fill="#e4e6f0"/>
<circle cx="803.70" cy="487.20" r="0.8" fill="#e4e6f0"/>
<circle cx="806.95" cy="487.20" r="0.8" fill="#e4e6f0"/>
<circle cx="810.20" cy="487.20" r="0.8" fill="#e4e6f0"/>
<circle cx="813.45" cy="487.20" r="0.8" fill="#e4e6f0"/>
<circle cx="816.70" cy="487.20" r="0.8" fill="#e4e6f0"/>
<circle cx="802.10" cy="488.72" r="0.8" fill="#e4e6f0"/>
<circle cx="805.35" cy="488.72" r="0.8" fill="#e4e6f0"/>
<circle cx="808.60" cy="488.72" r="0.8" fill="#e4e6f0"/>
<circle cx="811.85" cy="488.72" r="0.8" fill="#e4e6f0"/>
<circle cx="815.10" cy="488.72" r="0.8" fill="#e4e6f0"/>
<circle cx="818.35" cy="488.72" r="0.8" fill="#e4e6f0"/>
<circle cx="803.70" cy="490.24" r="0.8" fill="#e4e6f0"/>
<circle cx="806.95" cy="490.24" r="0.8" fill="#e4e6f0"/>
<circle cx="810.20" cy="490.24" r="0.8" fill="#e4e6f0"/>
<circle cx="813.45" cy="490.24" r="0.8" fill="#e4e6f0"/>
<circle cx="816.70" cy="490.24" r="0.8" fill="#e4e6f0"/>
<circle cx="802.10" cy="491.76" r="0.8" fill="#e4e6f0"/>
<circle cx="805.35" cy="491.76" r="0.8" fill="#e4e6f0"/>
<circle cx="808.60" cy="491.76" r="0.8" fill="#e4e6f0"/>
<circle cx="811.85" cy="491.76" r="0.8" fill="#e4e6f0"/>
<circle cx="815.10" cy="491.76" r="0.8" fill="#e4e6f0"/>
<circle cx="818.35" cy="491.76" r="0.8" fill="#e4e6f0"/>
<rect x="800.8" y="524.4" width="45.3" height="28.2" fill="#ffffff"/>
<rect x="800.8" y="524.4" width="45.3" height="9.40" fill="#f39338"/>
<rect x="800.8" y="543.20" width="45.3" height="9.40" fill="#3a8a46"/>
<circle cx="823.45" cy="538.50" r="3.7" fill="#2a2470"/>
<rect x="800.9" y="569.4" width="45.2" height="28.6" fill="#ffffff"/>
<circle cx="823.70" cy="583.70" r="7.9" fill="#b5212d"/>
<rect x="890.5" y="434.3" width="44.4" height="27.3" fill="#d5222d"/>
<polygon points="897.00,437.20 897.99,439.84 900.80,439.96 898.60,441.72 899.35,444.44 897.00,442.88 894.65,444.44 895.40,441.72 893.20,439.96 896.01,439.84" fill="#f7c736"/>
<polygon points="904.40,435.91 904.21,437.03 905.17,437.63 904.05,437.80 903.77,438.89 903.26,437.88 902.14,437.95 902.94,437.16 902.53,436.11 903.53,436.63" fill="#f7c736"/>
<polygon points="907.10,438.61 906.91,439.73 907.87,440.33 906.75,440.50 906.47,441.59 905.96,440.58 904.84,440.65 905.64,439.86 905.23,438.81 906.23,439.33" fill="#f7c736"/>
<polygon points="907.10,442.61 906.91,443.73 907.87,444.33 906.75,444.50 906.47,445.59 905.96,444.58 904.84,444.65 905.64,443.86 905.23,442.81 906.23,443.33" fill="#f7c736"/>
<polygon points="904.40,445.71 904.21,446.83 905.17,447.43 904.05,447.60 903.77,448.69 903.26,447.68 902.14,447.75 902.94,446.96 902.53,445.91 903.53,446.43" fill="#f7c736"/>
<rect x="890.5" y="477.8" width="45.2" height="28.6" fill="#ffffff"/>
<circle cx="913.30" cy="492.10" r="7.9" fill="#b5212d"/>
<rect x="891.1" y="524.7" width="44.9" height="28.3" fill="#ffffff"/>
<rect x="891.1" y="524.70" width="44.9" height="2.18" fill="#c5323c"/>
<rect x="891.1" y="529.05" width="44.9" height="2.18" fill="#c5323c"/>
<rect x="891.1" y="533.41" width="44.9" height="2.18" fill="#c5323c"/>
<rect x="891.1" y="537.76" width="44.9" height="2.18" fill="#c5323c"/>
<rect x="891.1" y="542.12" width="44.9" height="2.18" fill="#c5323c"/>
<rect x="891.1" y="546.47" width="44.9" height="2.18" fill="#c5323c"/>
<rect x="891.1" y="550.82" width="44.9" height="2.18" fill="#c5323c"/>
<rect x="891.1" y="524.7" width="20.6" height="15.24" fill="#2b2f6c"/>
<circle cx="893.20" cy="526.30" r="0.8" fill="#e4e6f0"/>
<circle cx="896.45" cy="526.30" r="0.8" fill="#e4e6f0"/>
<circle cx="899.70" cy="526.30" r="0.8" fill="#e4e6f0"/>
<circle cx="902.95" cy="526.30" r="0.8" fill="#e4e6f0"/>
<circle cx="906.20" cy="526.30" r="0.8" fill="#e4e6f0"/>
<circle cx="909.45" cy="526.30" r="0.8" fill="#e4e6f0"/>
<circle cx="894.80" cy="527.82" r="0.8" fill="#e4e6f0"/>
<circle cx="898.05" cy="527.82" r="0.8" fill="#e4e6f0"/>
<circle cx="901.30" cy="527.82" r="0.8" fill="#e4e6f0"/>
<circle cx="904.55" cy="527.82" r="0.8" fill="#e4e6f0"/>
<circle cx="907.80" cy="527.82" r="0.8" fill="#e4e6f0"/>
<circle cx="893.20" cy="529.34" r="0.8" fill="#e4e6f0"/>
<circle cx="896.45" cy="529.34" r="0.8" fill="#e4e6f0"/>
<circle cx="899.70" cy="529.34" r="0.8" fill="#e4e6f0"/>
<circle cx="902.95" cy="529.34" r="0.8" fill="#e4e6f0"/>
<circle cx="906.20" cy="529.34" r="0.8" fill="#e4e6f0"/>
<circle cx="909.45" cy="529.34" r="0.8" fill="#e4e6f0"/>
<circle cx="894.80" cy="530.86" r="0.8" fill="#e4e6f0"/>
<circle cx="898.05" cy="530.86" r="0.8" fill="#e4e6f0"/>
<circle cx="901.30" cy="530.86" r="0.8" fill="#e4e6f0"/>
<circle cx="904.55" cy="530.86" r="0.8" fill="#e4e6f0"/>
<circle cx="907.80" cy="530.86" r="0.8" fill="#e4e6f0"/>
<circle cx="893.20" cy="532.38" r="0.8" fill="#e4e6f0"/>
<circle cx="896.45" cy="532.38" r="0.8" fill="#e4e6f0"/>
<circle cx="899.70" cy="532.38" r="0.8" fill="#e4e6f0"/>
<circle cx="902.95" cy="532.38" r="0.8" fill="#e4e6f0"/>
<circle cx="906.20" cy="532.38" r="0.8" fill="#e4e6f0"/>
<circle cx="909.45" cy="532.38" r="0.8" fill="#e4e6f0"/>
<circle cx="894.80" cy="533.90" r="0.8" fill="#e4e6f0"/>
<circle cx="898.05" cy="533.90" r="0.8" fill="#e4e6f0"/>
<circle cx="901.30" cy="533.90" r="0.8" fill="#e4e6f0"/>
<circle cx="904.55" cy="533.90" r="0.8" fill="#e4e6f0"/>
<circle cx="907.80" cy="533.90" r="0.8" fill="#e4e6f0"/>
<circle cx="893.20" cy="535.42" r="0.8" fill="#e4e6f0"/>
<circle cx="896.45" cy="535.42" r="0.8" fill="#e4e6f0"/>
<circle cx="899.70" cy="535.42" r="0.8" fill="#e4e6f0"/>
<circle cx="902.95" cy="535.42" r="0.8" fill="#e4e6f0"/>
<circle cx="906.20" cy="535.42" r="0.8" fill="#e4e6f0"/>
<circle cx="909.45" cy="535.42" r="0.8" fill="#e4e6f0"/>
<circle cx="894.80" cy="536.94" r="0.8" fill="#e4e6f0"/>
<circle cx="898.05" cy="536.94" r="0.8" fill="#e4e6f0"/>
<circle cx="901.30" cy="536.94" r="0.8" fill="#e4e6f0"/>
<circle cx="904.55" cy="536.94" r="0.8" fill="#e4e6f0"/>
<circle cx="907.80" cy="536.94" r="0.8" fill="#e4e6f0"/>
<circle cx="893.20" cy="538.46" r="0.8" fill="#e4e6f0"/>
<circle cx="896.45" cy="538.46" r="0.8" fill="#e4e6f0"/>
<circle cx="899.70" cy="538.46" r="0.8" fill="#e4e6f0"/>
<circle cx="902.95" cy="538.46" r="0.8" fill="#e4e6f0"/>
<circle cx="906.20" cy="538.46" r="0.8" fill="#e4e6f0"/>
<circle cx="909.45" cy="538.46" r="0.8" fill="#e4e6f0"/>
<rect x="890.4" y="571.9" width="43.8" height="27.7" fill="#ffffff"/>
<rect x="890.4" y="571.9" width="43.8" height="4.62" fill="#c9252f"/>
<rect x="890.4" y="594.98" width="43.8" height="4.62" fill="#c9252f"/>
<rect x="890.4" y="581.13" width="43.8" height="9.23" fill="#2d2a6e"/>
<g stroke="#cde1f2" stroke-width="0.12">
<text x="729.2" y="447.0" font-size="12.0" fill="#33384a" font-weight="normal" textLength="64.1" lengthAdjust="spacingAndGlyphs">TIONGKOK</text>
<text x="747.0" y="459.4" font-size="12.5" fill="#33384a" font-weight="normal" textLength="46.3" lengthAdjust="spacingAndGlyphs">4.568,5</text>
<text x="684.5" y="488.4" font-size="12.0" fill="#33384a" font-weight="normal" textLength="108.5" lengthAdjust="spacingAndGlyphs">AMERIKA SERIKAT</text>
<text x="746.1" y="504.7" font-size="12.5" fill="#33384a" font-weight="normal" textLength="47.2" lengthAdjust="spacingAndGlyphs">2.340,8</text>
<text x="760.9" y="536.2" font-size="12.0" fill="#33384a" font-weight="normal" textLength="32.4" lengthAdjust="spacingAndGlyphs">INDIA</text>
<text x="749.5" y="551.6" font-size="12.5" fill="#33384a" font-weight="normal" textLength="43.8" lengthAdjust="spacingAndGlyphs">1.226,8</text>
<text x="740.3" y="581.8" font-size="12.0" fill="#33384a" font-weight="normal" textLength="53.0" lengthAdjust="spacingAndGlyphs">JEPANG</text>
<text x="756.3" y="596.6" font-size="12.5" fill="#33384a" font-weight="normal" letter-spacing="-0.78">1.181,6</text>
<text x="944.0" y="446.9" font-size="12.0" fill="#33384a" font-weight="normal" textLength="63.8" lengthAdjust="spacingAndGlyphs">TIONGKOK</text>
<text x="944.0" y="459.2" font-size="12.5" fill="#33384a" font-weight="normal" textLength="47.1" lengthAdjust="spacingAndGlyphs">6.340,9</text>
<text x="944.0" y="490.0" font-size="12.0" fill="#33384a" font-weight="normal" textLength="48.3" lengthAdjust="spacingAndGlyphs">JEPANG</text>
<text x="944.0" y="504.2" font-size="12.5" fill="#33384a" font-weight="normal" letter-spacing="-1.05">1.151,7</text>
<text x="944.0" y="536.2" font-size="12.0" fill="#33384a" font-weight="normal" textLength="108.4" lengthAdjust="spacingAndGlyphs">AMERIKA SERIKAT</text>
<text x="944.0" y="550.2" font-size="12.5" fill="#33384a" font-weight="normal" textLength="35.4" lengthAdjust="spacingAndGlyphs">763,0</text>
<text x="944.0" y="583.9" font-size="12.0" fill="#33384a" font-weight="normal" textLength="61.6" lengthAdjust="spacingAndGlyphs">THAILAND</text>
<text x="944.0" y="598.7" font-size="12.5" fill="#33384a" font-weight="normal" textLength="31.4" lengthAdjust="spacingAndGlyphs">730,1</text>
</g>
</g>
</svg>
</body>
</html>
